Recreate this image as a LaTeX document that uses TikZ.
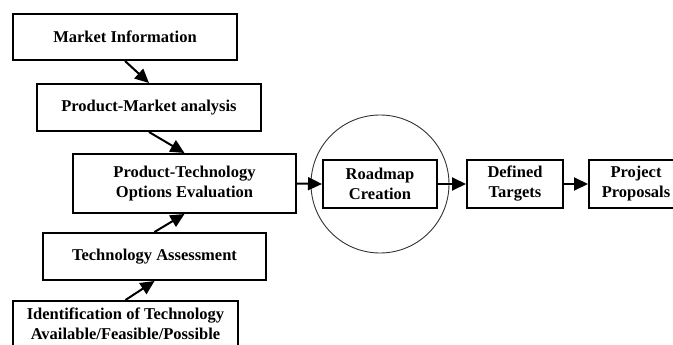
\documentclass[tikz,border=0pt]{standalone}
\usepackage{fontspec}
\setmainfont{Liberation Serif}
\usetikzlibrary{arrows.meta}
\begin{document}
\begin{tikzpicture}[x=1pt,y=-1pt]
	\tikzstyle{every node}=[font=\fontsize{16.5}{20}\selectfont\bfseries, align=center]
	\tikzstyle{box}=[draw, line width=2pt, inner sep=0pt]
	\tikzstyle{arr}=[line width=2pt, -{Triangle[length=14pt,width=13pt]}]
	
	\useasboundingbox (0,0) rectangle (673,345);
	\clip (0,0) rectangle (673,345);
	
	% left column
	\node [box, minimum width=224pt, minimum height=46pt] (market) at (125,37) {Market Information};
	\node [box, minimum width=224pt, minimum height=47pt] (prodmarket) at (149,107.5) {Product-Market analysis};
	\node [box, minimum width=223pt, minimum height=59pt] (prodtech) at (184.5,183.5) {Product-Technology\\Options Evaluation};
	\node [box, minimum width=223pt, minimum height=47pt] (techassess) at (154.5,256.5) {Technology Assessment};
	\node [box, minimum width=225pt, minimum height=46pt] (ident) at (125.5,324) {Identification of Technology\\Available/Feasible/Possible};
	
	% right row
	\node [circle, draw=black!80, line width=0.9pt, minimum size=138pt] (ring) at (380,184) {};
	\node [box, minimum width=114pt, minimum height=48pt] (roadmap) at (380,184) {Roadmap\\Creation};
	\node [box, minimum width=96pt, minimum height=48pt] (targets) at (515,184) {Defined\\Targets};
	\node [box, minimum width=94pt, minimum height=48pt] (proposals) at (636,184) {Project\\Proposals};
	
	\draw [arr] (market.south) -- (prodmarket.north);
	\draw [arr] (prodmarket.south) -- (prodtech.north);
	\draw [arr] (techassess.north) -- (prodtech.south);
	\draw [arr] (ident.north) -- (techassess.south);
	
	\draw [arr] (prodtech.east) -- (roadmap.west);
	\draw [arr] (roadmap.east) -- (targets.west);
	\draw [arr] (targets.east) -- (proposals.west);
	
\end{tikzpicture}
\end{document}
